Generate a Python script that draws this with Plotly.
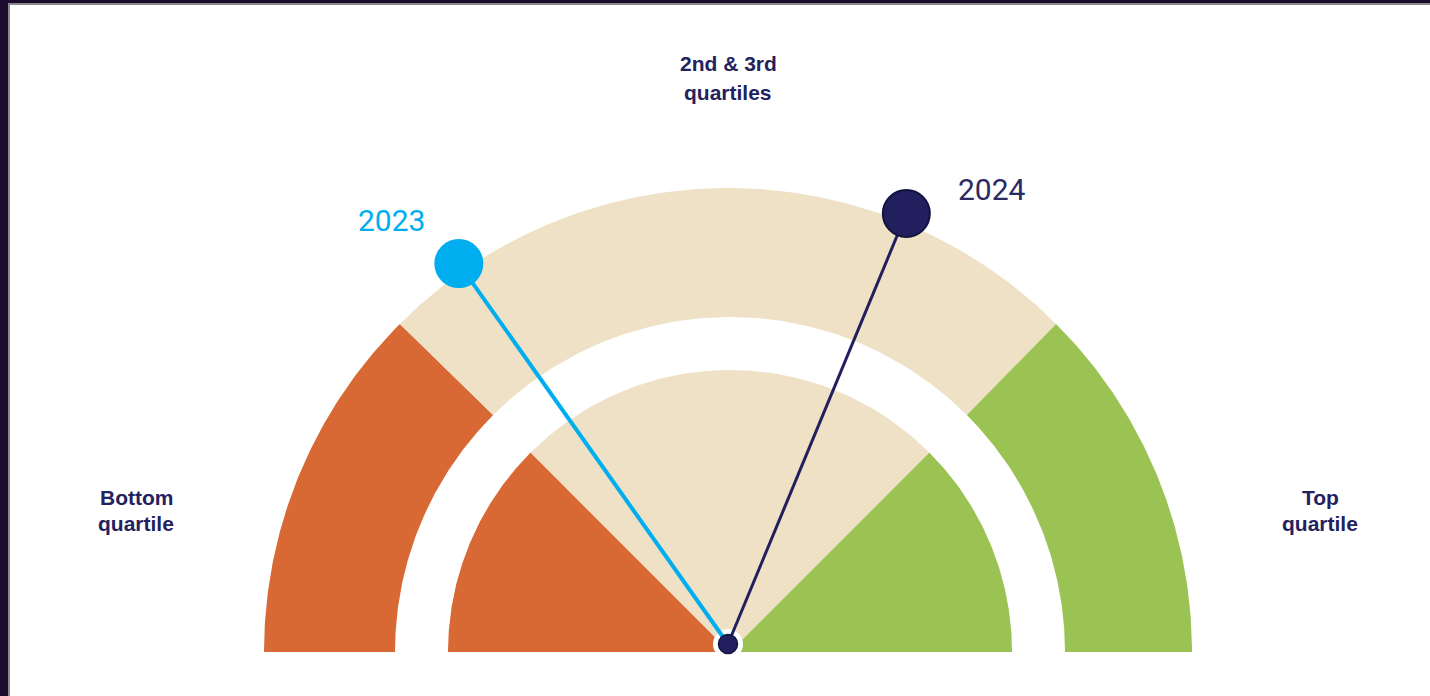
import numpy as np
import plotly.graph_objects as go

# ---- data ----
band_edges = [0, 25, 75, 100]            # quartile boundaries (percent of scale)
band_names = ["Bottom quartile", "2nd & 3rd quartiles", "Top quartile"]
band_colors = ["#D86834", "#EEE1C5", "#9AC353"]
years = ["2023", "2024"]
year_values = [30.4, 62.5]               # needle position (percent of scale)
year_colors = ["#00AEEF", "#211F5E"]

# ---- geometry / style (pixel coordinate system) ----
W, H = 1430, 696
CX, CY = 728, 652          # gauge centre (outer edge)
CXI = 730                  # centre used for inner edges
PX, PY = 728, 644          # needle pivot (hub)
R_OUT, R_RING_IN, R_DISK = 464, 335, 282
NEEDLE_LEN = 466


def val2ang(v):
    return np.pi * (1 - v / 100.0)


def arc(cx, r, a0, a1, n=120):
    t = np.linspace(a0, a1, n)
    return cx + r * np.cos(t), CY - r * np.sin(t)


fig = go.Figure()

# outer ring bands and inner disk wedges
for i in range(len(band_names)):
    a0, a1 = val2ang(band_edges[i]), val2ang(band_edges[i + 1])
    xo, yo = arc(CX, R_OUT, a0, a1)
    xi, yi = arc(CXI, R_RING_IN, a1, a0)
    fig.add_trace(go.Scatter(x=np.r_[xo, xi, xo[0]], y=np.r_[yo, yi, yo[0]],
                             fill="toself", fillcolor=band_colors[i], mode="lines",
                             line=dict(width=0, color=band_colors[i]),
                             hoverinfo="skip", showlegend=False))
    xd, yd = arc(CXI, R_DISK, a0, a1)
    fig.add_trace(go.Scatter(x=np.r_[CXI, xd, CXI], y=np.r_[CY, yd, CY],
                             fill="toself", fillcolor=band_colors[i], mode="lines",
                             line=dict(width=0, color=band_colors[i]),
                             hoverinfo="skip", showlegend=False))

# white halo behind hub
fig.add_trace(go.Scatter(x=[PX], y=[PY], mode="markers",
                         marker=dict(size=30, color="white"),
                         hoverinfo="skip", showlegend=False))

# needles
line_w = [4, 3]
outline = ["#00AEEF", "#14133F"]
for yr, v, c, lw, oc in zip(years, year_values, year_colors, line_w, outline):
    a = val2ang(v)
    ex, ey = PX + NEEDLE_LEN * np.cos(a), PY - NEEDLE_LEN * np.sin(a)
    fig.add_trace(go.Scatter(x=[PX, ex], y=[PY, ey], mode="lines",
                             line=dict(color=c, width=lw),
                             hoverinfo="skip", showlegend=False))
    fig.add_trace(go.Scatter(x=[ex], y=[ey], mode="markers",
                             marker=dict(size=47, color=c, line=dict(color=oc, width=2)),
                             name=yr, hoverinfo="skip", showlegend=False))

# hub
fig.add_trace(go.Scatter(x=[PX], y=[PY], mode="markers",
                         marker=dict(size=19, color="#211F5E", line=dict(color="#14133F", width=1.5)),
                         hoverinfo="skip", showlegend=False))

annotations = []
# year labels
year_label_pos = [(391, 220), (992, 189)]
year_text_colors = ["#00AEEF", "#2B2A63"]
for yr, (lx, ly), tc in zip(years, year_label_pos, year_text_colors):
    annotations.append(dict(x=lx, y=ly, text=yr, showarrow=False, xanchor="center", yanchor="middle",
                            font=dict(family="Roboto", size=30, color=tc)))

# category labels (two lines each)
cat_lines = [["Bottom", "quartile"], ["2nd & 3rd", "quartiles"], ["Top", "quartile"]]
cat_pos = [(136, 497), (728, 63), (1320, 497)]
cat_gap = [26, 29, 26]
for lines, (lx, ly), g in zip(cat_lines, cat_pos, cat_gap):
    for k, t in enumerate(lines):
        annotations.append(dict(x=lx, y=ly + g * k, text="<b>%s</b>" % t, showarrow=False,
                                xanchor="center", yanchor="middle",
                                font=dict(family="Arial, Liberation Sans", size=21, color="#24225E")))

# frame
shapes = [
    dict(type="rect", xref="paper", yref="paper", x0=0, x1=8 / W, y0=0, y1=1,
         fillcolor="#1D0A2F", line=dict(width=0)),
    dict(type="rect", xref="paper", yref="paper", x0=0, x1=1, y0=1 - 3 / H, y1=1,
         fillcolor="#1D0A2F", line=dict(width=0)),
    dict(type="rect", xref="paper", yref="paper", x0=8 / W, x1=10 / W, y0=0, y1=1 - 3 / H,
         fillcolor="#8A8A8C", line=dict(width=0)),
    dict(type="rect", xref="paper", yref="paper", x0=8 / W, x1=1, y0=1 - 5 / H, y1=1 - 3 / H,
         fillcolor="#8A8A8C", line=dict(width=0)),
]

fig.update_layout(
    width=W, height=H, margin=dict(l=0, r=0, t=0, b=0),
    paper_bgcolor="white", plot_bgcolor="white",
    xaxis=dict(range=[0, W], visible=False, fixedrange=True),
    yaxis=dict(range=[H, 0], visible=False, fixedrange=True),
    annotations=annotations, shapes=shapes, showlegend=False,
)

fig.write_html("out.html", config={"displayModeBar": False})
